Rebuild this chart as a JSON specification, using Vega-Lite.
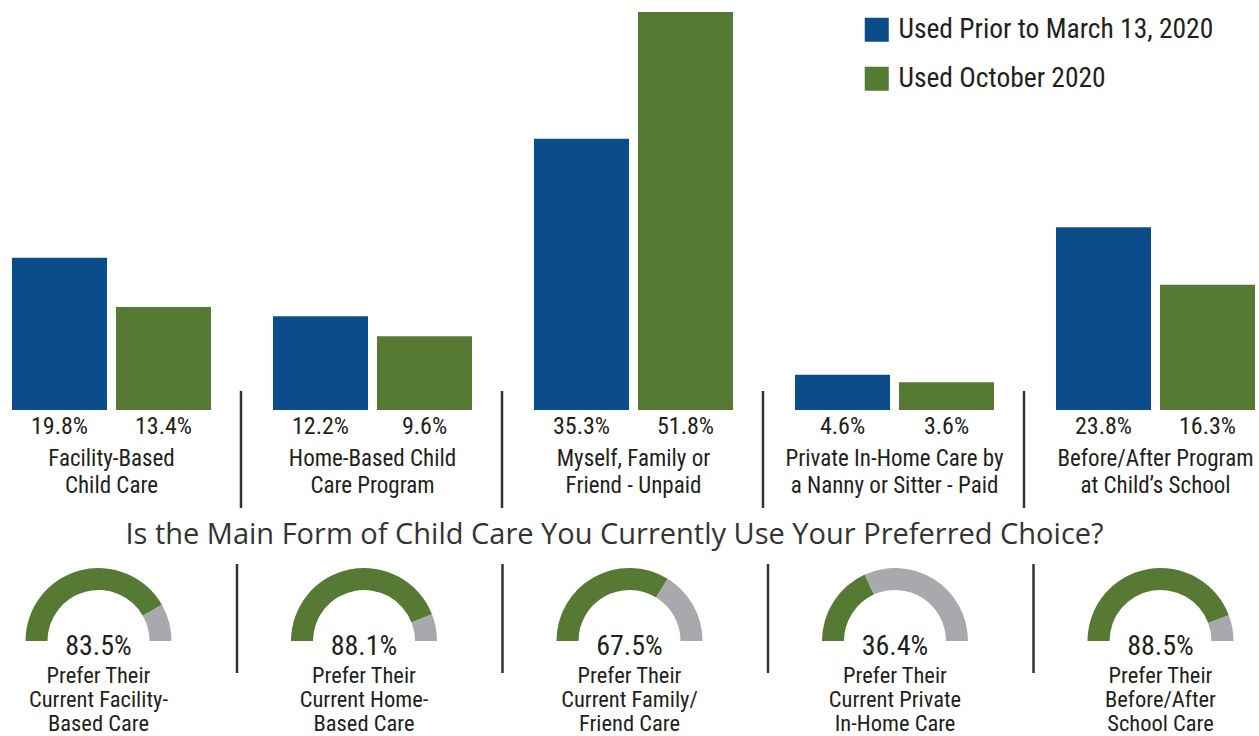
{
  "$schema": "https://vega.github.io/schema/vega-lite/v6.json",
  "padding": 0,
  "background": "white",
  "spacing": 10,
  "config": {"view": {"stroke": null}, "font": "Roboto Condensed"},
  "resolve": {"scale": {"color": "independent", "x": "independent"}, "legend": {"color": "independent"}},
  "vconcat": [
    {
      "width": 1259,
      "height": 410,
      "data": {"values": [
        {"cat": "Facility-Based\nChild Care", "group": 1, "series": "Used Prior to March 13, 2020", "value": 0.198},
        {"cat": "Facility-Based\nChild Care", "group": 1, "series": "Used October 2020", "value": 0.134},
        {"cat": "Home-Based Child\nCare Program", "group": 2, "series": "Used Prior to March 13, 2020", "value": 0.122},
        {"cat": "Home-Based Child\nCare Program", "group": 2, "series": "Used October 2020", "value": 0.096},
        {"cat": "Myself, Family or\nFriend - Unpaid", "group": 3, "series": "Used Prior to March 13, 2020", "value": 0.353},
        {"cat": "Myself, Family or\nFriend - Unpaid", "group": 3, "series": "Used October 2020", "value": 0.518},
        {"cat": "Private In-Home Care by\na Nanny or Sitter - Paid", "group": 4, "series": "Used Prior to March 13, 2020", "value": 0.046},
        {"cat": "Private In-Home Care by\na Nanny or Sitter - Paid", "group": 4, "series": "Used October 2020", "value": 0.036},
        {"cat": "Before/After Program\nat Child’s School", "group": 5, "series": "Used Prior to March 13, 2020", "value": 0.238},
        {"cat": "Before/After Program\nat Child’s School", "group": 5, "series": "Used October 2020", "value": 0.163}
      ]},
      "layer": [
        {
          "mark": {"type": "bar"},
          "encoding": {
            "x": {"field": "cat", "type": "nominal", "sort": null,
              "scale": {"paddingInner": 0.2375, "paddingOuter": 0.0306, "align": 0.75},
              "axis": {"title": null, "domain": false, "ticks": false, "tickSize": 0, "labelAngle": 0,
                "labelFontSize": 23, "labelColor": "#231f20", "labelPadding": 55,
                "labelExpr": "split(datum.value, '\\n')", "labelLineHeight": 27,
                "labelBaseline": "alphabetic", "labelLimit": 400, "labelOverlap": false}},
            "xOffset": {"field": "series", "type": "nominal", "sort": null,
              "scale": {"paddingInner": 0.0865, "paddingOuter": 0}},
            "y": {"field": "value", "type": "quantitative",
              "scale": {"domain": [0, 0.5336], "nice": false}, "axis": null},
            "color": {"field": "series", "type": "nominal", "sort": null,
              "scale": {"domain": ["Used Prior to March 13, 2020", "Used October 2020"], "range": ["#0b4c8a", "#567a34"]},
              "legend": {"orient": "none", "legendX": 863, "legendY": 16, "title": null,
                "symbolType": "square", "symbolSize": 576, "symbolStrokeWidth": 0, "symbolOpacity": 1,
                "labelFontSize": 27.5, "labelColor": "#231f20", "labelOffset": 8, "rowPadding": 20,
                "padding": 0, "labelLimit": 400}}
          }
        },
        {
          "mark": {"type": "text", "baseline": "alphabetic", "dy": 24, "fontSize": 24, "color": "#231f20"},
          "encoding": {
            "x": {"field": "cat", "type": "nominal", "sort": null},
            "xOffset": {"field": "series", "type": "nominal", "sort": null},
            "y": {"datum": 0},
            "text": {"field": "value", "type": "quantitative", "format": ".1%"}
          }
        },
        {
          "transform": [{"filter": "datum.series == 'Used Prior to March 13, 2020' && datum.group > 1"}],
          "mark": {"type": "rule", "xOffset": -32, "strokeWidth": 2.5, "color": "#333333"},
          "encoding": {
            "x": {"field": "cat", "type": "nominal", "sort": null, "bandPosition": 0},
            "y": {"datum": 0.0247},
            "y2": {"datum": -0.1275}
          }
        }
      ]
    },
    {
      "width": 1259,
      "height": 109,
      "title": {"text": "Is the Main Form of Child Care You Currently Use Your Preferred Choice?",
        "font": "Open Sans", "fontSize": 29, "fontWeight": "normal", "color": "#333333",
        "anchor": "middle", "offset": 13, "dx": -15},
      "data": {"values": [
        {"cat": "Facility-Based", "group": 1, "part": "prefer", "value": 0.835, "label": "Prefer Their\nCurrent  Facility-\nBased Care"},
        {"cat": "Facility-Based", "group": 1, "part": "other", "value": 0.165, "label": ""},
        {"cat": "Home-Based", "group": 2, "part": "prefer", "value": 0.881, "label": "Prefer Their\nCurrent Home-\nBased Care"},
        {"cat": "Home-Based", "group": 2, "part": "other", "value": 0.119, "label": ""},
        {"cat": "Family/Friend", "group": 3, "part": "prefer", "value": 0.675, "label": "Prefer Their\nCurrent Family/\nFriend Care"},
        {"cat": "Family/Friend", "group": 3, "part": "other", "value": 0.325, "label": ""},
        {"cat": "Private In-Home", "group": 4, "part": "prefer", "value": 0.364, "label": "Prefer Their\nCurrent Private\nIn-Home Care"},
        {"cat": "Private In-Home", "group": 4, "part": "other", "value": 0.636, "label": ""},
        {"cat": "Before/After School", "group": 5, "part": "prefer", "value": 0.885, "label": "Prefer Their\nBefore/After\nSchool Care"},
        {"cat": "Before/After School", "group": 5, "part": "other", "value": 0.115, "label": ""}
      ]},
      "transform": [
        {"stack": "value", "groupby": ["cat"], "sort": [{"field": "part", "order": "descending"}], "as": ["v0", "v1"]}
      ],
      "encoding": {
        "x": {"field": "cat", "type": "nominal", "sort": null,
          "scale": {"type": "point", "padding": 0.371, "align": 0.5}, "axis": null}
      },
      "layer": [
        {
          "mark": {"type": "arc", "radius": 73, "radius2": 51, "yOffset": 22.5},
          "encoding": {
            "theta": {"field": "v0", "type": "quantitative", "stack": null,
              "scale": {"domain": [0, 1], "range": [-1.5708, 1.5708]}},
            "theta2": {"field": "v1"},
            "color": {"field": "part", "type": "nominal",
              "scale": {"domain": ["prefer", "other"], "range": ["#567a34", "#a7a9ac"]}, "legend": null}
          }
        },
        {
          "transform": [{"filter": "datum.part == 'prefer'"}],
          "mark": {"type": "text", "fontSize": 28, "baseline": "alphabetic", "dy": 36.5, "color": "#231f20"},
          "encoding": {"text": {"field": "value", "type": "quantitative", "format": ".1%"}}
        },
        {
          "transform": [{"filter": "datum.part == 'prefer'"}],
          "mark": {"type": "text", "fontSize": 22.5, "baseline": "alphabetic", "dy": 64.5, "lineHeight": 24, "lineBreak": "\n", "color": "#231f20"},
          "encoding": {"text": {"field": "label", "type": "nominal"}}
        },
        {
          "transform": [{"filter": "datum.part == 'prefer' && datum.group > 1"}],
          "mark": {"type": "rule", "xOffset": -127, "strokeWidth": 2.5, "color": "#333333"},
          "encoding": {}
        }
      ]
    }
  ]
}
